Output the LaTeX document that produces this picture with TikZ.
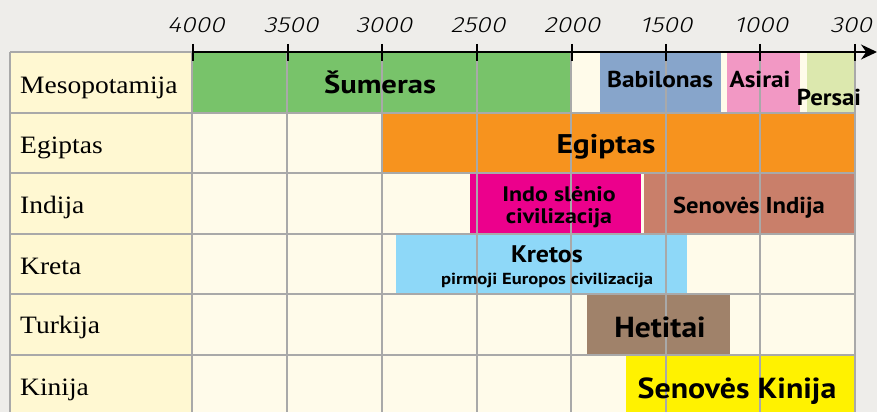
\documentclass[tikz,border=0pt]{standalone}
\usepackage{fontspec}
\setmainfont{Liberation Serif}
\newfontfamily\barfont{PT Sans}
\newfontfamily\axisfont{Fira Sans Light}[FakeSlant=0.2]
\usetikzlibrary{arrows.meta}
\newcommand{\hscl}[2]{\scalebox{#1}[1]{#2}}
\definecolor{bgc}{HTML}{EEEDEA}
\definecolor{labc}{HTML}{FFF8D2}
\definecolor{cellc}{HTML}{FFFBEA}
\definecolor{gridc}{HTML}{A9A9A9}
\definecolor{sumc}{HTML}{78C36A}
\definecolor{babc}{HTML}{87A5CB}
\definecolor{asic}{HTML}{F298C4}
\definecolor{perc}{HTML}{DCE8AE}
\definecolor{egc}{HTML}{F7931E}
\definecolor{indoc}{HTML}{EC008C}
\definecolor{senic}{HTML}{C97F6A}
\definecolor{krec}{HTML}{8ED8F8}
\definecolor{hetc}{HTML}{A0826A}
\definecolor{kinc}{HTML}{FFF200}
\tikzset{
  rowlab/.style={anchor=base west, inner sep=0pt, font=\fontsize{25}{27}\selectfont},
  bartext/.style={anchor=base, inner sep=0pt, font=\barfont\bfseries\fontsize{22}{24}\selectfont},
  yearlab/.style={anchor=base, inner sep=0pt, font=\axisfont\fontsize{22}{24}\selectfont},
  gridline/.style={draw=gridc, line width=1.2pt},
  tickmark/.style={draw=black, line width=2pt},
}
\begin{document}
\begin{tikzpicture}[x=1pt,y=-1pt]
\useasboundingbox (0,0) rectangle (877,412);
\fill[bgc] (0,0) rectangle (877,412);
% table background
\fill[labc] (10,52) rectangle (192,412);
\fill[cellc] (192,52) rectangle (855,412);
% bars
\fill[sumc] (193,52) rectangle (571,113);
\fill[babc] (600,52) rectangle (721,113);
\fill[asic] (727,52) rectangle (800,113);
\fill[perc] (807,52) rectangle (855,113);
\fill[egc] (382,113) rectangle (856,173);
\fill[indoc] (470,173) rectangle (641,234);
\fill[senic] (644,173) rectangle (855,234);
\fill[krec] (396,234) rectangle (687,294);
\fill[hetc] (587,294) rectangle (730,356);
\fill[kinc] (626,355) rectangle (855,412);
% grid
\foreach \gx in {192,287,382,477,571,666,760,855} \draw[gridline] (\gx,52) -- (\gx,412);
\foreach \gy in {113,173,234,294,355} \draw[gridline] (10,\gy) -- (855,\gy);
\draw[gridline] (10,52) -- (10,412);
\draw[gridline] (10,52) -- (192,52);
% axis
\coordinate (axs) at (192,52);
\coordinate (axe) at (877,52);
\draw[black, line width=1.6pt, -{Stealth[length=16pt,width=15pt]}] (axs) -- (axe);
\foreach \tx/\lab/\lx in {193/4000/196,288/3500/291,382/3000/384,477/2500/478,572/2000/572,666/1500/666,760/1000/761,855/300/851} {
  \draw[tickmark] (\tx,44) -- (\tx,61);
  \node[yearlab] (y\lab) at (\lx,33) {\hscl{1.2}{\lab}};
}
% row labels
\node[rowlab] (rmes) at (20,93) {\hscl{1.1}{Mesopotamija}};
\node[rowlab] (regi) at (20,153) {\hscl{1.1}{Egiptas}};
\node[rowlab] (rind) at (20,213) {\hscl{1.1}{Indija}};
\node[rowlab] (rkre) at (20,274) {\hscl{1.1}{Kreta}};
\node[rowlab] (rtur) at (20,333) {\hscl{1.1}{Turkija}};
\node[rowlab] (rkin) at (20,395) {\hscl{1.1}{Kinija}};
% bar labels
\node[bartext, font=\barfont\bfseries\fontsize{26}{28}\selectfont] (tsum) at (380,93) {\hscl{1.18}{Šumeras}};
\node[bartext, font=\barfont\bfseries\fontsize{23}{25}\selectfont] (tbab) at (660,87) {\hscl{1.1}{Babilonas}};
\node[bartext, font=\barfont\bfseries\fontsize{23}{25}\selectfont] (tasi) at (760,87) {\hscl{1.1}{Asirai}};
\node[bartext, font=\barfont\bfseries\fontsize{23}{25}\selectfont] (tper) at (829,105) {\hscl{1.08}{Persai}};
\node[bartext, font=\barfont\bfseries\fontsize{27}{29}\selectfont] (tegi) at (606,153) {\hscl{1.17}{Egiptas}};
\node[bartext, font=\barfont\bfseries\fontsize{21}{23}\selectfont] (tindo1) at (559,201) {\hscl{1.14}{Indo slėnio}};
\node[bartext, font=\barfont\bfseries\fontsize{21}{23}\selectfont] (tindo2) at (559,223) {\hscl{1.14}{civilizacija}};
\node[bartext, font=\barfont\bfseries\fontsize{23}{25}\selectfont] (tsen) at (749,213) {\hscl{1.07}{Senovės Indija}};
\node[bartext, font=\barfont\bfseries\fontsize{24}{26}\selectfont] (tkre) at (547,262) {\hscl{1.08}{Kretos}};
\node[bartext, font=\barfont\bfseries\fontsize{16}{18}\selectfont] (tkre2) at (547,284) {\hscl{1.16}{pirmoji Europos civilizacija}};
\node[bartext, font=\barfont\bfseries\fontsize{29}{31}\selectfont] (thet) at (660,337) {\hscl{1.09}{Hetitai}};
\node[bartext, font=\barfont\bfseries\fontsize{29}{31}\selectfont] (tkin) at (737,398) {\hscl{1.1}{Senovės Kinija}};
\end{tikzpicture}
\end{document}
